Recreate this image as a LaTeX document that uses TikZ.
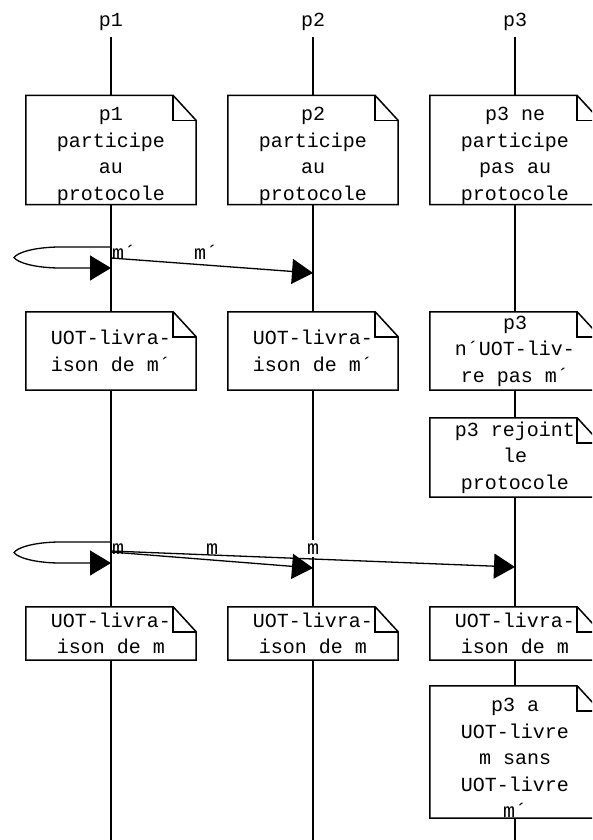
\documentclass[tikz,border=0pt]{standalone}
\usepackage{fontspec}
\setmonofont{Liberation Mono}
\usetikzlibrary{arrows.meta}

\tikzset{
  txt/.style={font=\ttfamily\fontsize{20}{26.5}\selectfont},
  head/.style={txt, inner sep=2pt},
  life/.style={line width=1.5pt, shorten <=4pt},
  notebox/.style={txt, align=center, minimum width=170pt, inner sep=0pt, fill=white},
  notefrm/.style={line width=1.5pt, line join=miter},
  msg/.style={line width=1.3pt, -{Triangle[length=21pt,width=25pt]}},
  lbl/.style={txt, inner sep=3pt, anchor=base},
  lblw/.style={lbl, fill=white},
}

% extra room above the first text line of a note
\newcommand\tallline{\rule{0pt}{25pt}}

% outline of a note: rectangle with a folded upper right corner
\newcommand\foldnote[1]{%
  \draw[notefrm] (#1.north west) -- ([xshift=-23pt]#1.north east)
    -- ([yshift=-25pt]#1.north east) -- (#1.south east)
    -- (#1.south west) -- cycle;
  \draw[notefrm] ([xshift=-23pt]#1.north east) |- ([yshift=-25pt]#1.north east);}

\begin{document}
\begin{tikzpicture}[x=1pt, y=-1pt]
  \useasboundingbox (0,0) rectangle (592,840);
  \clip (0,0) rectangle (592,840);

  % participants and lifelines
  \node[head] (h1) at (111,22) {p1};
  \node[head] (h2) at (313,22) {p2};
  \node[head] (h3) at (515,22) {p3};
  \coordinate (e1) at (111,840);
  \coordinate (e2) at (313,840);
  \coordinate (e3) at (515,840);
  \draw[life] (h1.south) -- (e1);
  \draw[life] (h2.south) -- (e2);
  \draw[life] (h3.south) -- (e3);

  % first row of notes
  \node[notebox, minimum height=106pt] (n11) at (111,150) {\tallline p1\\participe\\au\\protocole};
  \node[notebox, minimum height=106pt] (n12) at (313,150) {\tallline p2\\participe\\au\\protocole};
  \node[notebox, minimum height=106pt] (n13) at (515,150) {\tallline p3 ne\\participe\\pas au\\protocole};
  \foldnote{n11}\foldnote{n12}\foldnote{n13}

  % delivery of m'
  \node[notebox, minimum height=78pt] (n21) at (111,351) {UOT-livra-\\ison de m´};
  \node[notebox, minimum height=78pt] (n22) at (313,351) {UOT-livra-\\ison de m´};
  \node[notebox, minimum height=78pt] (n23) at (515,351) {p3\\n´UOT-liv-\\re pas m´};
  \node[notebox, minimum height=79pt] (n24) at (515,457.5) {p3 rejoint\\le\\protocole};
  \foldnote{n21}\foldnote{n22}\foldnote{n23}\foldnote{n24}

  % delivery of m
  \node[notebox, minimum height=53pt] (n31) at (111,633.5) {UOT-livra-\\ison de m};
  \node[notebox, minimum height=53pt] (n32) at (313,633.5) {UOT-livra-\\ison de m};
  \node[notebox, minimum height=53pt] (n33) at (515,633.5) {UOT-livra-\\ison de m};
  \node[notebox, minimum height=132pt] (n34) at (515,752) {\tallline p3 a\\UOT-livre\\m sans\\UOT-livre\\m´};
  \foldnote{n31}\foldnote{n32}\foldnote{n33}\foldnote{n34}

  % message m' : self copy and p1 -> p2
  \coordinate (a1) at (111,247);
  \coordinate (a2) at (111,268);
  \coordinate (b1) at (111,258);
  \coordinate (b2) at (313,273);
  \draw[msg] (a1) -- (58,247) .. controls (32,247.5) and (17,253) .. (14,257.5)
    .. controls (17,262) and (32,267.5) .. (58,268) -- (a2);
  \draw[msg] (b1) -- (b2);
  \node[lbl, anchor=base west] (la) at (109,259) {m´};
  \node[lbl] (lb) at (206,259) {m´};

  % message m : self copy, p1 -> p2 and p1 -> p3
  \coordinate (c1) at (111,542);
  \coordinate (c2) at (111,563);
  \coordinate (d1) at (111,552);
  \coordinate (d2) at (313,568);
  \coordinate (f1) at (111,551);
  \coordinate (f2) at (515,567);
  \draw[msg] (c1) -- (58,542) .. controls (32,542.5) and (17,548) .. (14,552.5)
    .. controls (17,557) and (32,562.5) .. (58,563) -- (c2);
  \draw[msg] (d1) -- (d2);
  \draw[msg] (f1) -- (f2);
  \node[lbl, anchor=base west] (lc) at (109,554) {m};
  \node[lbl] (ld) at (212,554) {m};
  \node[lblw] (lf) at (313,554) {m};
\end{tikzpicture}
\end{document}
